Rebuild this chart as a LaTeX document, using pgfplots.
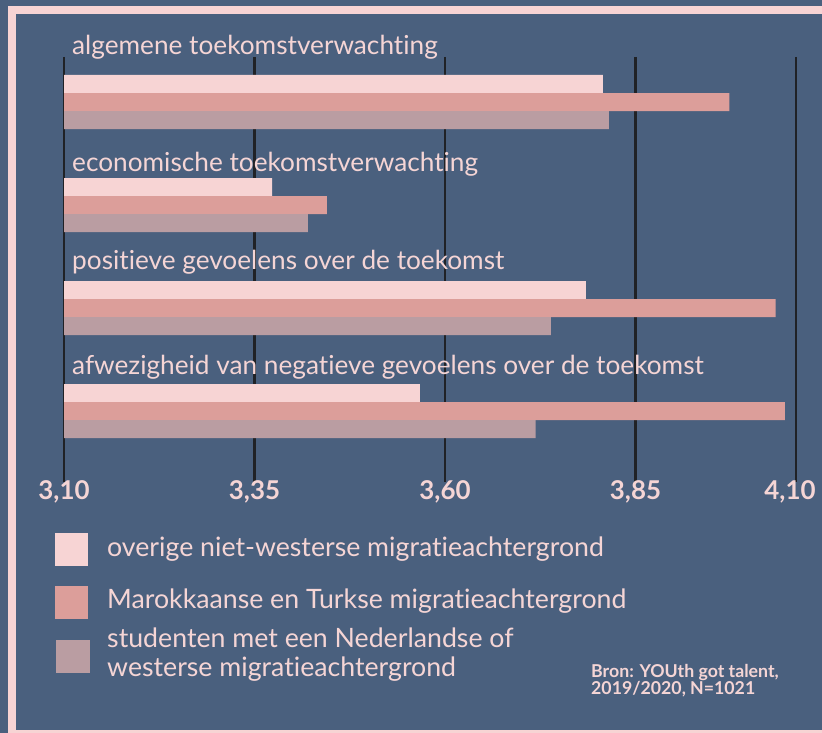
\documentclass[border=0pt]{standalone}
\usepackage{pgfplots}
\pgfplotsset{compat=1.18}
\usepackage{fontspec}
\setmainfont{Lato}[Ligatures={NoCommon}]
\definecolor{bgc}{HTML}{4A607E}
\definecolor{pinkA}{HTML}{F7D4D4}
\definecolor{pinkB}{HTML}{DC9E9A}
\definecolor{pinkC}{HTML}{BA9DA2}
\definecolor{txt}{HTML}{F5D5D5}
\definecolor{gridc}{HTML}{202226}
\begin{document}
\begin{tikzpicture}[x=1bp,y=1bp]
\useasboundingbox (0,0) rectangle (822,733);
\fill[bgc] (0,0) rectangle (822,733);
\fill[pinkA] (8,0) rectangle (822,727);
\fill[bgc] (16,3) rectangle (822,719);
\begin{axis}[
  at={(64bp,251bp)}, anchor=south west,
  scale only axis, width=732bp, height=425bp,
  xmin=3.10, xmax=4.0606,
  ymin=-0.437, ymax=3.689, y dir=reverse,
  enlargelimits=false,
  axis line style={draw=none},
  major tick length=0pt,
  ytick=\empty,
  xtick={3.10,3.35,3.60,3.85},
  xticklabels={{3{,}10},{3{,}35},{3{,}60},{3{,}85}},
  extra x ticks={4.0606},
  extra x tick labels={4{,}10},
  extra x tick style={xmajorgrids=true, xticklabel style={xshift=-6bp}},
  xmajorgrids,
  grid style={line width=2.7bp, color=gridc},
  xticklabel style={font=\fontsize{26}{30}\selectfont\bfseries, text=txt, anchor=center, yshift=-10bp},
  xbar, bar width=18bp, bar shift=0pt,
  clip=false,
]
\addplot[fill=pinkA, draw=none] coordinates {(3.807,-0.1748) (3.373,0.8252) (3.785,1.8252) (3.567,2.8252)};
\addplot[fill=pinkB, draw=none] coordinates {(3.973,0) (3.445,1) (4.034,2) (4.046,3)};
\addplot[fill=pinkC, draw=none] coordinates {(3.815,0.1748) (3.420,1.1748) (3.739,2.1748) (3.719,3.1748)};
\end{axis}
\begin{scope}[every node/.style={text=txt, font=\fontsize{26.3}{30}\selectfont, inner sep=0pt, anchor=base west}]
\node at (72,678) {algemene toekomstverwachting};
\node at (72,561) {economische toekomstverwachting};
\node at (72,463) {positieve gevoelens over de toekomst};
\node at (72,358) {afwezigheid van negatieve gevoelens over de toekomst};
\end{scope}
\begin{scope}[every node/.style={text=txt, font=\fontsize{26.8}{30}\selectfont, inner sep=0pt, anchor=base west}]
\node at (107,176) {overige niet-westerse migratieachtergrond};
\node at (107,124) {Marokkaanse en Turkse migratieachtergrond};
\node at (107,85) {studenten met een Nederlandse of};
\node at (107,56) {westerse migratieachtergrond};
\end{scope}
\fill[pinkA] (55,167) rectangle (88,200);
\fill[pinkB] (55,114) rectangle (88,147);
\fill[pinkC] (56,60) rectangle (90,93);
\node[text=txt, font=\fontsize{17.8}{20}\selectfont\bfseries, inner sep=0pt, anchor=base west] at (591,55) {Bron: YOUth got talent,};
\node[text=txt, font=\fontsize{17.8}{20}\selectfont\bfseries, inner sep=0pt, anchor=base west] at (591,38) {2019/2020, N=1021};
\end{tikzpicture}
\end{document}
